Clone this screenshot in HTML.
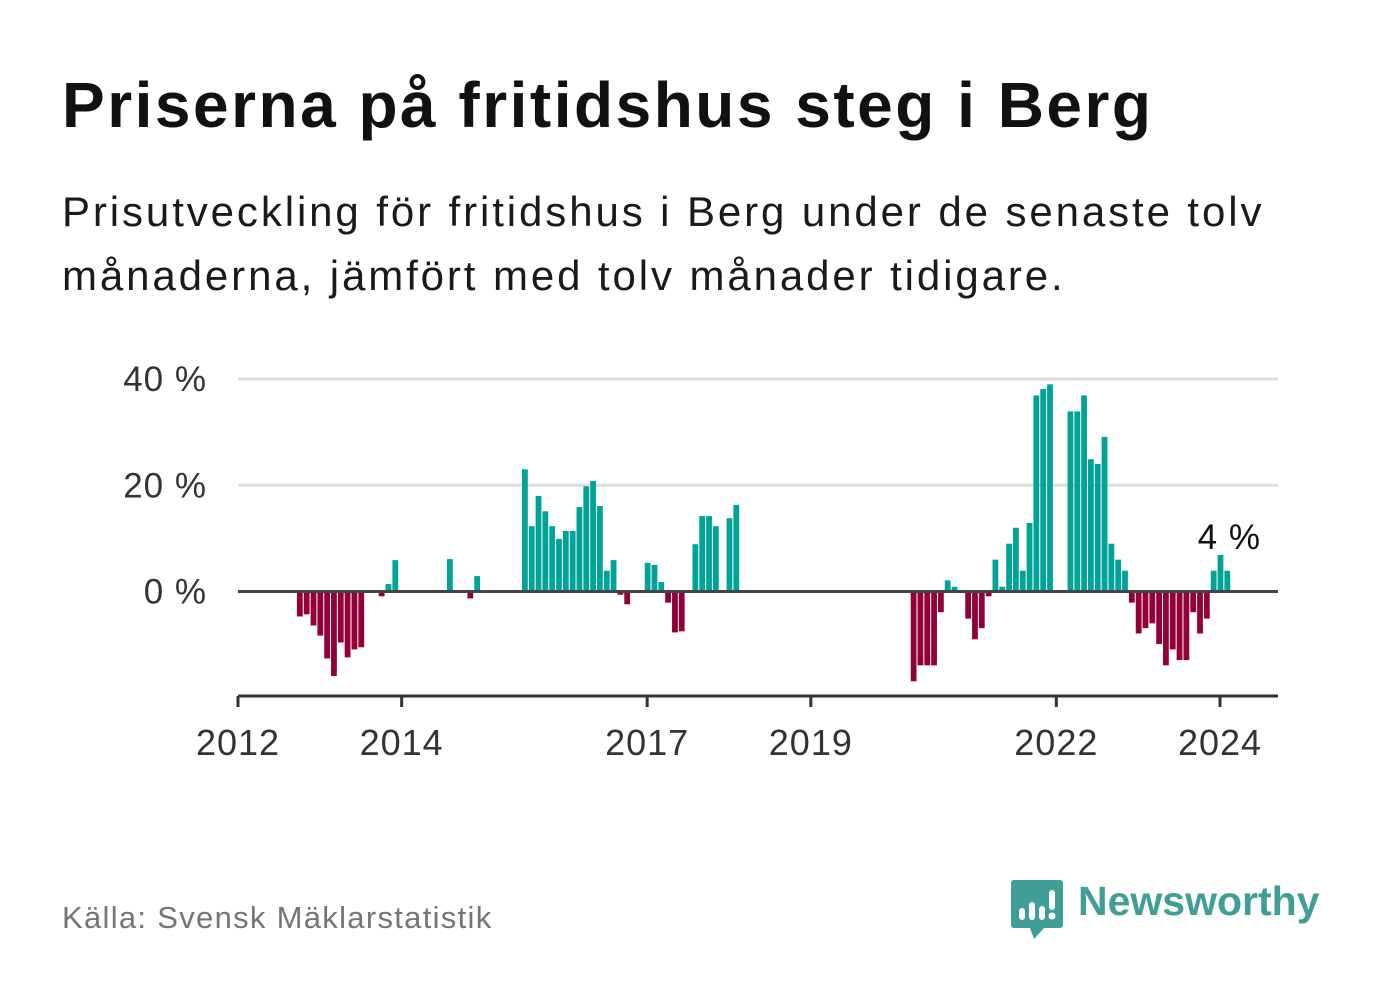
<!DOCTYPE html>
<html><head><meta charset="utf-8"><style>
body{margin:0;background:#fff;font-family:"Liberation Sans","DejaVu Sans",sans-serif;}
#wrap{position:relative;width:1382px;height:999px;overflow:hidden;background:#fff;}
h1{position:absolute;left:62px;top:68px;margin:0;font-size:64px;font-weight:bold;color:#111;letter-spacing:2.5px;white-space:nowrap;}
.sub{position:absolute;left:62px;top:180px;margin:0;font-size:42px;line-height:64px;color:#1a1a1a;width:1300px;letter-spacing:2.9px;}
.src{position:absolute;left:62px;top:900px;font-size:31px;color:#757575;letter-spacing:1.3px;}
svg text{font-family:"Liberation Sans","DejaVu Sans",sans-serif;}
</style></head><body>
<div id="wrap">
<h1>Priserna på fritidshus steg i Berg</h1>
<p class="sub">Prisutveckling för fritidshus i Berg under de senaste tolv<br>månaderna, jämfört med tolv månader tidigare.</p>
<svg id="chart" width="1382" height="999" style="position:absolute;left:0;top:0"></svg>
<div class="src">Källa: Svensk Mäklarstatistik</div>
<svg style="position:absolute;left:1010px;top:878px" width="56" height="64">
<path d="M4 2h46a3 3 0 0 1 3 3v42a3 3 0 0 1-3 3H34l-10 11-4-11H4a3 3 0 0 1-3-3V5a3 3 0 0 1 3-3z" fill="#3f9f96"/>
<rect x="9" y="30" width="6" height="12" rx="3" fill="#fff"/><rect x="19" y="24" width="6" height="18" rx="3" fill="#fff"/><rect x="29" y="28" width="6" height="14" rx="3" fill="#fff"/><rect x="39" y="12" width="6" height="20" rx="3" fill="#fff"/><circle cx="42" cy="38" r="3.5" fill="#fff"/>
</svg>
<div style="position:absolute;left:1078px;top:878px;font-size:41px;font-weight:bold;color:#3f9f96;letter-spacing:0px">Newsworthy</div>
</div>
<script>
const yTicks=[0,20,40];
const yTickLabels=["0 %","20 %","40 %"];
const xTickYears=[2012,2014,2017,2019,2022,2024];
const startYear=2012;
const values=[null,null,null,null,null,null,null,null,-4.7,-4.3,-6.4,-8.3,-12.6,-15.9,-9.6,-12.4,-10.9,-10.5,null,null,-0.9,1.4,5.9,null,null,null,null,null,null,null,6.1,null,null,-1.3,2.9,null,null,null,null,null,null,23.0,12.3,18.0,15.1,12.3,9.9,11.4,11.4,15.9,19.8,20.8,16.1,3.9,5.9,-0.6,-2.4,null,null,5.4,5.0,1.8,-2.1,-7.7,-7.5,null,8.9,14.2,14.2,12.3,null,13.8,16.3,
null,null,null,null,null,null,null,null,null,null,null,null,null,null,null,null,null,null,null,null,null,null,null,null,null,
-16.9,-13.9,-13.9,-13.9,-3.9,2.1,0.9,null,-5.1,-9.0,-6.9,-0.9,6.0,0.9,9.0,12.0,3.9,12.9,36.9,38.1,39.0,null,null,33.9,33.9,36.9,24.9,24.0,29.1,9.0,6.0,3.9,-2.1,-7.9,-6.9,-6.0,-9.9,-13.9,-10.9,-12.9,-12.9,-3.9,-7.9,-5.1,3.9,6.9,3.9];
const annotation="4 %";
const NS="http://www.w3.org/2000/svg";
const svg=document.getElementById('chart');
const X0=238,X1=1278,monthW=(1220-238)/144;
const yS=v=>591.5-v*(591.5-379)/40;
const xM=m=>X0+m*monthW;
function mk(t,a){const e=document.createElementNS(NS,t);for(const k in a)e.setAttribute(k,a[k]);svg.appendChild(e);return e;}
yTicks.forEach((t,i)=>{
 if(t!==0){const g=mk('line',{x1:X0,x2:X1,y1:yS(t),y2:yS(t),stroke:'#dedede','stroke-width':3});
 
 }
 const l=mk('text',{x:207,y:yS(t)+12,'text-anchor':'end','font-size':35,fill:'#333','letter-spacing':1});l.textContent=yTickLabels[i];
 
 
});
values.forEach((v,i)=>{
 if(v===null)return;
 const cx=xM(i+1.07),y0=yS(0),y1=yS(v);
 const r=mk('rect',{x:cx-2.9,width:5.8,y:Math.min(y0,y1),height:Math.abs(y1-y0),fill:v>=0?'#00a398':'#930038'});
 
 
});
const z=mk('line',{x1:X0,x2:X1,y1:yS(0),y2:yS(0),stroke:'#444','stroke-width':3});


const ax=mk('line',{x1:X0,x2:X1,y1:696,y2:696,stroke:'#333','stroke-width':3});


xTickYears.forEach(yr=>{
 const x=xM((yr-startYear)*12);
 const t=mk('line',{x1:x,x2:x,y1:696,y2:707,stroke:'#333','stroke-width':3});
 
 
 const l=mk('text',{x:x,y:755,'text-anchor':'middle','font-size':36,fill:'#333','letter-spacing':1});l.textContent=yr;
 
 
});
const last=values.length-1;
const an=mk('text',{x:xM(last+1.07)+2,y:yS(values[last])-22,'text-anchor':'middle','font-size':35,fill:'#111','letter-spacing':1});an.textContent=annotation;


</script>
</body></html>
